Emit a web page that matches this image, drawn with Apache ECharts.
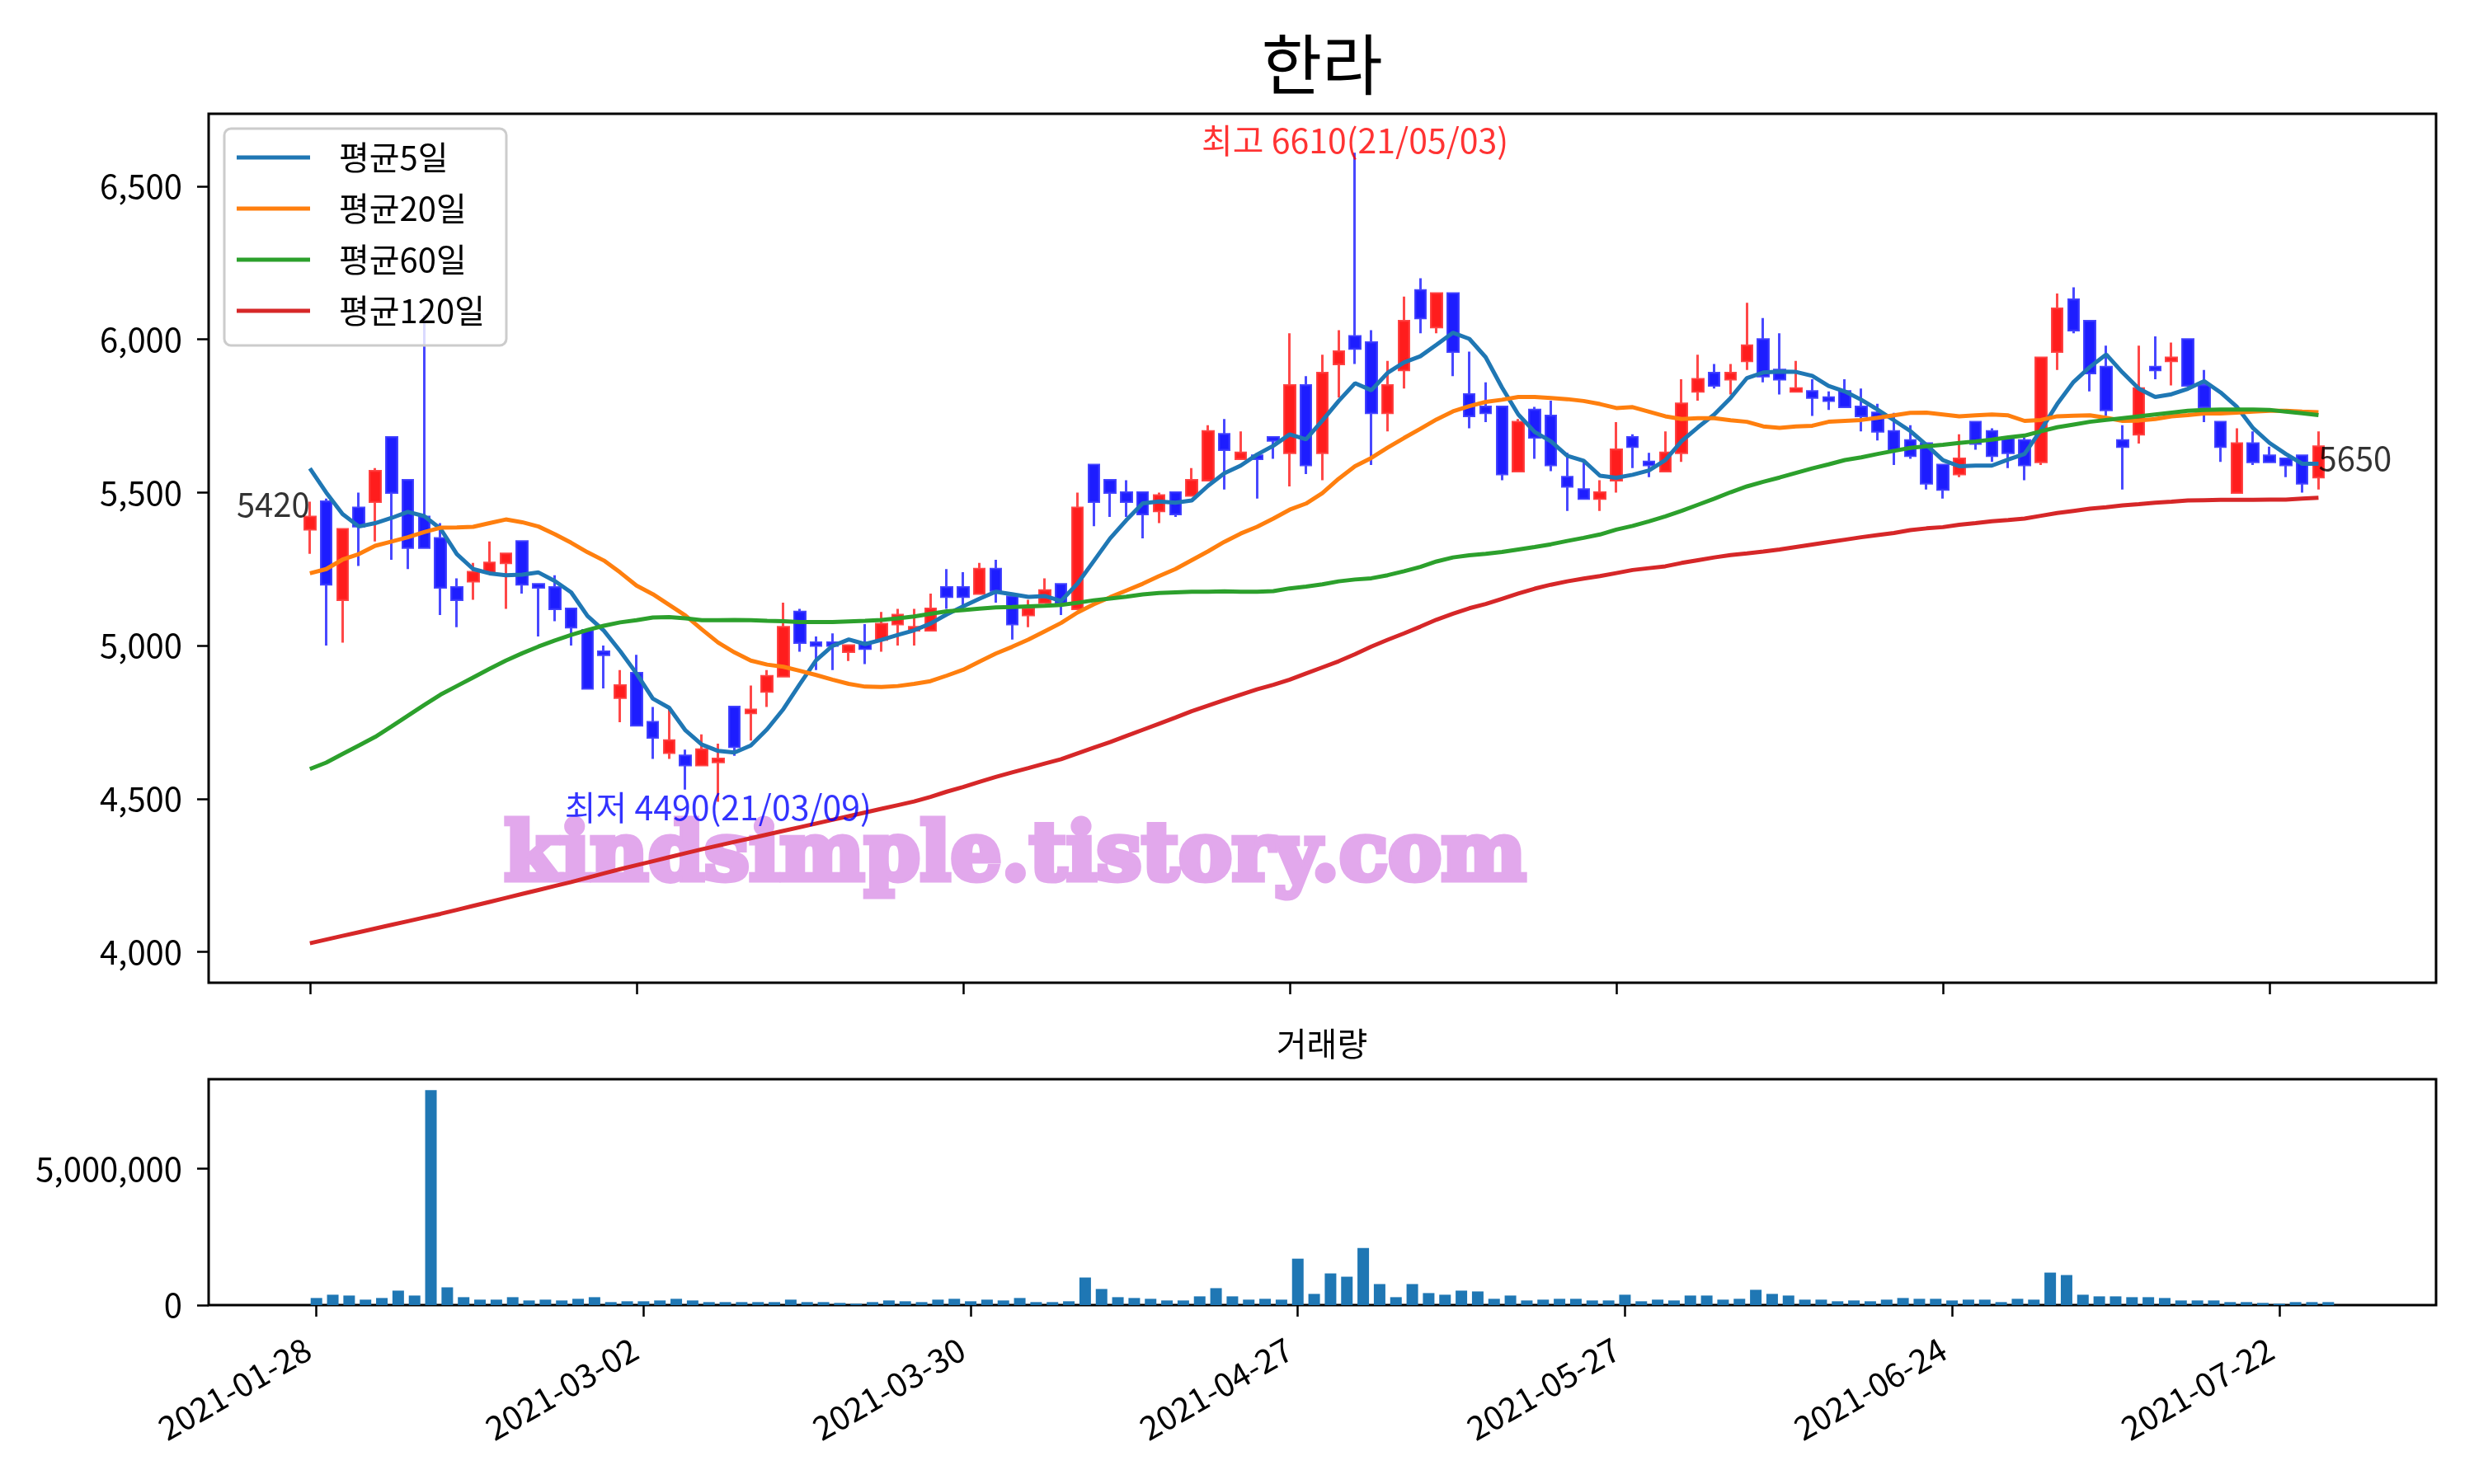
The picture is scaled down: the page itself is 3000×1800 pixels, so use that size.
<!DOCTYPE html>
<html><head><meta charset="utf-8">
<script src="https://cdn.jsdelivr.net/npm/echarts@6/dist/echarts.min.js"></script>
<style>html,body{margin:0;padding:0;background:#fff}#c{width:3000px;height:1800px}</style>
</head><body><div id="c"></div>
<script>
const FONT = '"Noto Sans CJK KR", "Noto Sans", sans-serif';

const titleText = '한라';
const volTitle = '거래량';
const maNames = ['평균5일', '평균20일', '평균60일', '평균120일'];
const maColors = ['#1f77b4', '#ff7f0e', '#2ca02c', '#d62728'];

const tickIdx = [0, 20, 40, 60, 80, 100, 120];
const tickLabels = ['2021-01-28', '2021-03-02', '2021-03-30', '2021-04-27', '2021-05-27', '2021-06-24', '2021-07-22'];
const yTicks = [4000, 4500, 5000, 5500, 6000, 6500];
const volTicks = [0, 5000000];

const opens = [5380,5470,5150,5450,5470,5680,5540,5420,5350,5190,
5210,5240,5270,5340,5200,5190,5120,5050,4980,4830,
4910,4750,4650,4640,4610,4620,4800,4780,4850,4900,
5110,5010,5010,4980,5010,5020,5070,5050,5050,5190,
5190,5170,5250,5160,5100,5140,5200,5120,5590,5540,
5500,5500,5440,5500,5490,5540,5690,5610,5620,5680,
5630,5850,5630,5920,6010,5990,5760,5900,6160,6040,
6150,5820,5780,5780,5570,5770,5750,5550,5510,5480,
5540,5680,5600,5570,5630,5830,5890,5870,5930,6000,
5900,5830,5830,5810,5830,5780,5760,5700,5670,5660,
5590,5560,5730,5700,5680,5670,5600,5960,6130,6060,
5910,5670,5690,5910,5930,6000,5850,5730,5500,5660,
5620,5610,5620,5550];
const closes = [5420,5200,5380,5390,5570,5500,5320,5320,5190,5150,
5240,5270,5300,5200,5190,5120,5060,4860,4970,4870,
4740,4700,4690,4610,4660,4630,4670,4790,4900,5060,
5010,5000,5000,5000,4990,5070,5100,5060,5120,5160,
5160,5250,5180,5070,5120,5180,5140,5450,5470,5500,
5470,5430,5490,5430,5540,5700,5640,5630,5610,5670,
5850,5590,5890,5960,5970,5760,5850,6060,6070,6150,
5960,5750,5760,5560,5730,5680,5590,5520,5480,5500,
5640,5650,5590,5630,5790,5870,5850,5890,5980,5880,
5870,5840,5810,5800,5780,5750,5700,5640,5620,5530,
5510,5610,5660,5620,5630,5590,5940,6100,6030,5890,
5770,5650,5840,5900,5940,5850,5780,5650,5660,5600,
5600,5590,5530,5650];
const lows = [5300,5000,5010,5260,5340,5280,5250,5320,5100,5060,
5150,5240,5120,5170,5030,5080,5000,4860,4860,4750,
4740,4630,4630,4530,4610,4490,4640,4690,4800,4900,
4980,4920,4920,4950,4940,4980,5000,5000,5050,5120,
5130,5170,5140,5020,5060,5140,5100,5120,5390,5420,
5420,5350,5400,5420,5490,5540,5510,5610,5480,5610,
5520,5560,5540,5810,5920,5590,5700,5840,6020,6020,
5880,5710,5730,5540,5570,5610,5570,5440,5480,5440,
5500,5580,5550,5570,5600,5800,5840,5820,5900,5860,
5820,5830,5750,5770,5780,5700,5670,5590,5610,5510,
5480,5550,5640,5600,5580,5540,5590,5900,6020,5830,
5750,5510,5660,5870,5850,5850,5730,5600,5500,5590,
5600,5550,5500,5510];
const highs = [5470,5480,5380,5500,5580,5680,5540,6080,5400,5220,
5270,5340,5300,5340,5200,5230,5120,5050,5000,4920,
4970,4800,4790,4660,4710,4680,4800,4870,4920,5140,
5120,5030,5040,5000,5070,5110,5120,5120,5170,5250,
5240,5270,5280,5160,5150,5220,5200,5500,5590,5540,
5540,5500,5500,5500,5580,5720,5740,5700,5620,5680,
6020,5880,5950,6030,6610,6030,5930,6140,6200,6150,
6150,5960,5860,5780,5740,5780,5800,5630,5600,5540,
5730,5690,5630,5700,5870,5950,5920,5920,6120,6070,
6020,5930,5870,5830,5870,5840,5790,5760,5720,5660,
5590,5690,5730,5710,5680,5680,5940,6150,6170,6060,
5980,5720,5980,6010,5990,6000,5900,5730,5710,5700,
5650,5610,5620,5700];
const volumes = [260000,380000,350000,200000,260000,530000,350000,7870000,650000,290000,
200000,200000,290000,170000,200000,170000,230000,290000,110000,140000,
140000,170000,230000,170000,110000,110000,110000,110000,110000,200000,
110000,110000,80000,50000,110000,170000,140000,110000,200000,230000,
140000,200000,170000,260000,110000,110000,140000,1010000,590000,290000,
260000,230000,170000,170000,320000,620000,320000,200000,230000,200000,
1700000,410000,1160000,1040000,2090000,770000,290000,770000,440000,380000,
530000,500000,230000,350000,170000,200000,230000,230000,170000,170000,
380000,140000,200000,170000,350000,350000,200000,230000,560000,410000,
350000,200000,200000,140000,170000,140000,200000,260000,230000,230000,
170000,200000,200000,110000,230000,200000,1190000,1100000,380000,320000,
320000,290000,290000,260000,170000,170000,170000,110000,110000,80000,
50000,110000,110000,110000];
const ma5 = [5579,5500,5430,5389,5400,5417,5437,5423,5382,5299,
5250,5236,5230,5232,5239,5211,5174,5097,5049,4982,
4909,4827,4797,4723,4677,4656,4651,4674,4727,4793,
4874,4952,4999,5020,5005,5019,5035,5050,5072,5102,
5128,5153,5176,5168,5159,5162,5146,5202,5276,5350,
5410,5465,5471,5467,5474,5522,5563,5588,5624,5653,
5690,5674,5735,5799,5857,5834,5891,5925,5945,5983,
6022,6002,5942,5843,5755,5698,5667,5620,5604,5555,
5548,5558,5572,5606,5668,5713,5755,5809,5874,5892,
5895,5894,5881,5848,5830,5803,5771,5736,5701,5655,
5606,5586,5588,5588,5608,5626,5704,5789,5861,5910,
5951,5892,5839,5812,5821,5839,5864,5827,5780,5710,
5662,5626,5594,5594];
const ma20 = [5236,5250,5281,5299,5326,5340,5354,5371,5385,5386,
5388,5400,5412,5403,5389,5364,5336,5305,5278,5239,
5196,5168,5133,5098,5053,5010,4978,4951,4938,4931,
4918,4904,4889,4875,4866,4865,4868,4875,4884,4902,
4921,4948,4974,4996,5020,5047,5074,5108,5135,5158,
5180,5202,5227,5250,5279,5308,5339,5366,5388,5415,
5444,5464,5498,5545,5586,5613,5647,5678,5708,5739,
5765,5782,5796,5803,5812,5812,5809,5805,5799,5789,
5776,5779,5764,5749,5740,5743,5743,5736,5731,5716,
5711,5716,5718,5731,5734,5737,5744,5752,5760,5761,
5755,5749,5752,5755,5752,5734,5737,5749,5751,5752,
5744,5734,5735,5740,5749,5753,5758,5758,5761,5764,
5767,5767,5764,5762];
const ma60 = [4597,4618,4646,4674,4702,4736,4771,4806,4840,4868,
4896,4924,4951,4975,4997,5017,5035,5051,5065,5076,
5083,5092,5093,5089,5083,5083,5084,5083,5081,5080,
5077,5077,5077,5079,5081,5084,5089,5095,5104,5112,
5116,5121,5125,5126,5128,5130,5133,5140,5148,5154,
5160,5167,5172,5174,5176,5176,5177,5176,5176,5178,
5187,5193,5200,5210,5216,5220,5230,5243,5257,5275,
5288,5295,5300,5306,5314,5322,5331,5342,5352,5363,
5379,5391,5406,5422,5440,5460,5480,5501,5520,5535,
5549,5564,5579,5592,5606,5615,5626,5636,5646,5651,
5656,5662,5667,5673,5680,5686,5700,5713,5722,5731,
5737,5743,5749,5755,5761,5767,5770,5771,5771,5771,
5770,5764,5759,5753];
const ma120 = [4028,4040,4052,4064,4076,4088,4100,4112,4124,4137,
4150,4163,4176,4189,4202,4215,4228,4242,4256,4270,
4283,4296,4309,4322,4335,4347,4359,4371,4383,4395,
4407,4419,4431,4443,4455,4467,4479,4491,4506,4523,
4538,4555,4571,4586,4600,4615,4629,4648,4667,4685,
4705,4725,4745,4765,4786,4804,4822,4840,4857,4872,
4889,4909,4929,4949,4972,4997,5019,5040,5062,5085,
5104,5122,5136,5153,5170,5186,5199,5210,5219,5227,
5237,5247,5253,5259,5270,5279,5288,5296,5301,5307,
5314,5322,5330,5338,5346,5354,5361,5368,5377,5383,
5387,5395,5400,5406,5410,5415,5424,5433,5440,5447,
5452,5458,5462,5467,5470,5474,5475,5476,5476,5476,
5477,5477,5480,5483];

const annotTexts = ['5420', '5650', '최고 6610(21/05/03)', '최저 4490(21/03/09)'];

const chart = echarts.init(document.getElementById('c'), null, {renderer: 'canvas'});
const fmt = v => Number(v).toLocaleString('en-US');
const pair = arr => arr.map((v, i) => [i, v]);
const tickLine = {color: '#000', width: 2.5};

const maSeries = [ma5, ma20, ma60, ma120].map((arr, k) => ({
  name: maNames[k], type: 'line', xAxisIndex: 0, yAxisIndex: 0,
  data: pair(arr), showSymbol: false, symbol: 'none', smooth: false,
  lineStyle: {color: maColors[k], width: 5}, itemStyle: {color: maColors[k]}, z: 5
}));

const option = {
  animation: false,
  backgroundColor: '#ffffff',
  textStyle: {fontFamily: FONT},
  grid: [
    {left: 253, top: 138, width: 2701, height: 1054, show: true, borderColor: '#000', borderWidth: 3, backgroundColor: 'transparent'},
    {left: 253, top: 1309, width: 2701, height: 274, show: true, borderColor: '#000', borderWidth: 3, backgroundColor: 'transparent'}
  ],
  legend: {
    data: maNames, orient: 'vertical', left: 272, top: 156,
    icon: 'rect', itemWidth: 89, itemHeight: 5, itemGap: 18,
    padding: [13, 26, 20, 15],
    backgroundColor: 'rgba(255,255,255,0.8)', borderColor: '#cccccc', borderWidth: 3, borderRadius: 8,
    textStyle: {fontSize: 40, fontFamily: FONT, color: '#000', lineHeight: 44, padding: [0, 0, 0, 30]},
    z: 10
  },
  xAxis: [
    {type: 'value', gridIndex: 0, min: -6.2, max: 130.2,
     axisLine: {show: false, onZero: false},
     axisTick: {show: true, customValues: tickIdx, length: 14, lineStyle: tickLine},
     axisLabel: {show: false}, splitLine: {show: false}},
    {type: 'value', gridIndex: 1, min: -6.59, max: 129.59,
     axisLine: {show: false, onZero: false},
     axisTick: {show: true, customValues: tickIdx, length: 14, lineStyle: tickLine},
     axisLabel: {show: true, customValues: tickIdx, rotate: 30, margin: 44, fontSize: 40, color: '#000', fontFamily: FONT,
       padding: [0, 12, 0, 0],
       formatter: v => { const k = tickIdx.indexOf(Math.round(v)); return k >= 0 ? tickLabels[k] : ''; }},
     splitLine: {show: false}}
  ],
  yAxis: [
    {type: 'value', gridIndex: 0, min: 3899, max: 6737,
     axisLine: {show: false, onZero: false},
     axisTick: {show: true, customValues: yTicks, length: 14, lineStyle: tickLine},
     axisLabel: {show: true, customValues: yTicks, formatter: fmt, fontSize: 40, margin: 32, color: '#000', fontFamily: FONT},
     splitLine: {show: false}},
    {type: 'value', gridIndex: 1, min: 0, max: 8270000,
     axisLine: {show: false, onZero: false},
     axisTick: {show: true, customValues: volTicks, length: 14, lineStyle: tickLine},
     axisLabel: {show: true, customValues: volTicks, formatter: fmt, fontSize: 40, margin: 32, color: '#000', fontFamily: FONT},
     splitLine: {show: false}}
  ],
  graphic: [
    {type: 'text', x: 1603, y: 78, z: 20, style: {text: titleText, font: '80px ' + FONT, fill: '#000', align: 'center', verticalAlign: 'middle'}},
    {type: 'text', x: 1603, y: 1266, z: 20, style: {text: volTitle, font: '40px ' + FONT, fill: '#000', align: 'center', verticalAlign: 'middle'}},
    {type: 'text', x: 1231, y: 1042, z: 1, style: {text: 'kindsimple.tistory.com', font: 'bold 97px "DejaVu Serif"', fill: 'rgb(226,168,236)', stroke: 'rgb(226,168,236)', lineWidth: 7, align: 'center', verticalAlign: 'middle'}}
  ],
  series: [
    {name: 'candle', type: 'candlestick', xAxisIndex: 0, yAxisIndex: 0,
     data: opens.map((o, i) => [i, o, closes[i], lows[i], highs[i]]),
     barWidth: 13,
     itemStyle: {color: 'rgba(255,10,10,0.92)', color0: 'rgba(10,10,255,0.92)', borderColor: 'rgba(255,40,40,0.85)', borderColor0: 'rgba(40,40,255,0.85)', borderWidth: 3},
     z: 3},
    ...maSeries,
    {name: 'volume', type: 'bar', xAxisIndex: 1, yAxisIndex: 1, data: pair(volumes), barWidth: 14,
     itemStyle: {color: '#1f77b4'}},
    {name: 'annot', type: 'scatter', xAxisIndex: 0, yAxisIndex: 0, symbolSize: 0.1, itemStyle: {color: 'rgba(0,0,0,0)'}, z: 8,
     silent: true,
     data: [
       {value: [0, 5460], label: {show: true, formatter: annotTexts[0], position: 'left', distance: 0, fontSize: 40, color: '#000', fontFamily: FONT}},
       {value: [123, 5612], label: {show: true, formatter: annotTexts[1], position: 'right', distance: 0, fontSize: 40, color: '#000', fontFamily: FONT}},
       {value: [64, 6650], label: {show: true, formatter: annotTexts[2], position: 'inside', fontSize: 41, color: '#ff0000', fontFamily: FONT}},
       {value: [25, 4472], label: {show: true, formatter: annotTexts[3], position: 'inside', fontSize: 41, color: '#0000ff', fontFamily: FONT}}
     ]}
  ]
};
chart.setOption(option);
</script>
</body></html>
